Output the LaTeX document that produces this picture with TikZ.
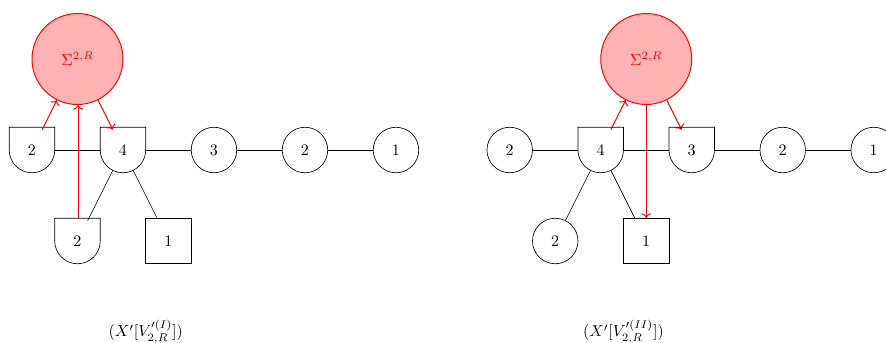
\documentclass[tikz,border=0pt]{standalone}
\usepackage{xcolor}
\usepackage{tikz}
\usetikzlibrary{arrows.meta,positioning}
\definecolor{sigred}{HTML}{FF0000}
\tikzset{
  gauge/.style ={circle,draw,minimum size=1cm,inner sep=0pt},
  half/.style  ={circle,minimum size=1cm,inner sep=0pt,outer sep=0pt},
  flav/.style  ={rectangle,draw,minimum size=1cm,inner sep=0pt},
  sig/.style   ={circle,draw=sigred,fill=sigred!30,text=sigred,line width=0.6pt,
                 minimum size=2cm,inner sep=0pt},
  link/.style  ={draw=black},
  map/.style   ={->,color=sigred,line width=0.6pt}
}

\begin{document}
\begin{tikzpicture}[node distance=2cm,on grid]
        \useasboundingbox (-0.703,-4.22) rectangle (18.77,3.297);
        % (I)
        \node[half] (l2) at (0,0) {$2$};
        \node[half,right=of l2] (l4) {$4$};
        \node[gauge,right=of l4] (l3) {$3$};
        \node[gauge,right=of l3] (l2b) {$2$};
        \node[gauge,right=of l2b] (l1) {$1$};
        \node[half,below right=2cm and 1cm of l2] (lb2) {$2$};
        \node[flav,right=of lb2] (lf1) {$1$};
        \node[sig,above right=2cm and 1cm of l2] (lsig) {$\Sigma^{2,R}$};
        \draw[link] (l2) -- (l4); \draw[link] (l4) -- (l3);
        \draw[link] (l3) -- (l2b); \draw[link] (l2b) -- (l1);
        \draw[link] (l4) -- (lb2); \draw[link] (l4) -- (lf1);
        \node (lcap) at (2.5,-4) {$(X'[V'^{(I)}_{2,R}])$};
        % (II)
        \node[gauge] (r2) at (10.5,0) {$2$};
        \node[half,right=of r2] (r4) {$4$};
        \node[half,right=of r4] (r3) {$3$};
        \node[gauge,right=of r3] (r2b) {$2$};
        \node[gauge,right=of r2b] (r1) {$1$};
        \node[gauge,below right=2cm and 1cm of r2] (rb2) {$2$};
        \node[flav,right=of rb2] (rf1) {$1$};
        \node[sig,above right=2cm and 1cm of r4] (rsig) {$\Sigma^{2,R}$};
        \draw[map] (r4) -- (rsig); \draw[map] (rsig) -- (r3);
        \draw[map] (rsig) -- (rf1);
        \draw[link] (r2) -- (r4); \draw[link] (r4) -- (r3);
        \draw[link] (r3) -- (r2b); \draw[link] (r2b) -- (r1);
        \draw[link] (r4) -- (rb2); \draw[link] (r4) -- (rf1);
        \node (rcap) at (13,-4) {$(X'[V'^{(II)}_{2,R}])$};
        % flat-topped outlines
        \foreach \n in {l2,l4,lb2,r4,r3}
          \draw (\n.west) -- ++(0,0.5) -| (\n.east) arc (0:-180:0.5);
        % maps into the left Sigma
        \draw[map] (l2) -- (lsig); \draw[map] (lsig) -- (l4);
        \draw[map] ([xshift=0.4pt]lb2.north) -- ([xshift=0.4pt]lsig.south);
      \end{tikzpicture}
\end{document}
